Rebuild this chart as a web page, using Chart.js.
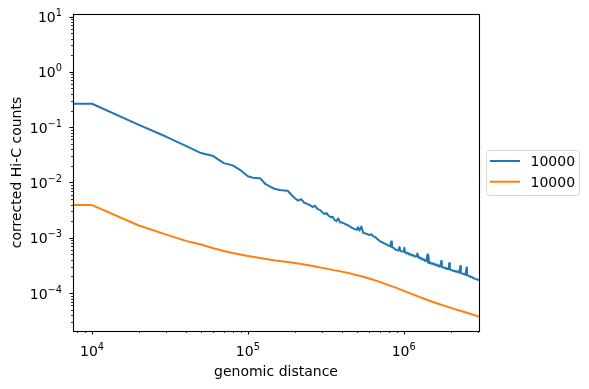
<!DOCTYPE html>
<html>
<head>
<meta charset="utf-8">
<script src="https://cdn.jsdelivr.net/npm/chart.js@4"></script>
<style>
  body { margin: 0; background: #fff; }
</style>
</head>
<body>
<canvas id="myChart" width="589" height="389"></canvas>
<script>
var seriesLabels = ["10000", "10000"];
var seriesColors = ["#1f77b4", "#ff7f0e"];

// blue curve
var blueDistance = [5000, 10000, 20000, 30000, 40000, 50000, 60000, 70000, 80000, 90000,
  100000, 110000, 120000, 130000, 140000, 150000, 160000, 170000, 180000, 190000,
  200000, 210000, 220000, 230000, 240000, 250000, 260000, 270000, 280000, 290000,
  300000, 310000, 320000, 330000, 340000, 350000, 360000, 370000, 380000, 390000,
  400000, 420000, 440000, 460000, 480000, 500000, 510000, 520000, 535000, 550000,
  570000, 580000, 600000, 620000, 640000, 660000, 680000, 700000, 720000, 740000,
  760000, 780000, 800000, 820000, 830000, 840000, 860000, 880000, 900000, 920000,
  940000, 950000, 970000, 1000000, 1010000, 1020000, 1040000, 1060000, 1080000, 1100000,
  1125000, 1150000, 1175000, 1200000, 1225000, 1240000, 1260000, 1280000, 1300000, 1325000,
  1350000, 1375000, 1400000, 1420000, 1430000, 1440000, 1455000, 1475000, 1500000, 1525000,
  1550000, 1575000, 1600000, 1625000, 1650000, 1675000, 1700000, 1720000, 1740000, 1755000,
  1780000, 1800000, 1825000, 1850000, 1875000, 1900000, 1925000, 1945000, 1960000, 1975000,
  2000000, 2030000, 2060000, 2090000, 2120000, 2150000, 2180000, 2210000, 2240000, 2270000,
  2310000, 2325000, 2360000, 2400000, 2430000, 2460000, 2490000, 2530000, 2545000, 2580000,
  2610000, 2650000, 2690000, 2730000, 2770000, 2810000, 2850000, 2890000, 2930000, 2970000,
  3000000, 3100000];
var blueCounts = [0.265, 0.265, 0.11, 0.067, 0.046, 0.034, 0.030, 0.0224, 0.0204, 0.0165,
  0.013, 0.012, 0.0119, 0.0093, 0.0083, 0.0076, 0.0073, 0.0072, 0.0071, 0.0060,
  0.0052, 0.0047, 0.0050, 0.0043, 0.0041, 0.0039, 0.0036, 0.0038, 0.0033, 0.0032,
  0.0029, 0.0027, 0.0028, 0.0025, 0.00235, 0.0024, 0.0021, 0.0020, 0.00225, 0.0019,
  0.0019, 0.00178, 0.00168, 0.00155, 0.00145, 0.0014, 0.00155, 0.00135, 0.0016, 0.00122,
  0.0012, 0.00118, 0.00112, 0.00116, 0.00106, 0.00102, 0.00094, 0.00088, 0.00084, 0.00081,
  0.00078, 0.00075, 0.00072, 0.0007, 0.00086, 0.00068, 0.00066, 0.00062, 0.0006, 0.00059,
  0.00068, 0.00058, 0.00057, 0.00056, 0.00066, 0.00055, 0.00052, 0.00054, 0.0005, 0.00051,
  0.00048, 0.00049, 0.00046, 0.00046, 0.00052, 0.00044, 0.00045, 0.00042, 0.00043, 0.0004,
  0.00041, 0.00038, 0.00039, 0.0005, 0.00036, 0.00048, 0.00035, 0.00036, 0.00034, 0.00035,
  0.00033, 0.00034, 0.00032, 0.00033, 0.00031, 0.00032, 0.0003, 0.00031, 0.00038, 0.0003,
  0.000295, 0.00029, 0.000285, 0.00029, 0.000275, 0.00028, 0.00027, 0.000275, 0.00035, 0.00027,
  0.000265, 0.00026, 0.000255, 0.00025, 0.000255, 0.000245, 0.00025, 0.00024, 0.000243, 0.000235,
  0.00031, 0.000232, 0.000228, 0.000225, 0.00022, 0.000223, 0.000215, 0.00029, 0.00021, 0.000212,
  0.000205, 0.000203, 0.000196, 0.000198, 0.00019, 0.000187, 0.000183, 0.000181, 0.000178, 0.000176,
  0.000174, 0.00017];

// orange curve
var orangeDistance = [5000, 10000, 20000, 30000, 40000, 50000, 60000, 70000, 80000, 100000,
  120000, 150000, 185000, 220000, 260000, 330000, 400000, 450000, 550000, 630000,
  700000, 800000, 890000, 1000000, 1200000, 1460000, 1700000, 1900000, 2100000, 2390000,
  2700000, 3000000, 3100000];
var orangeCounts = [0.0039, 0.0039, 0.00167, 0.00114, 0.00088, 0.00076, 0.00065, 0.00058, 0.00053, 0.00047,
  0.00043, 0.00039, 0.000362, 0.000335, 0.00031, 0.000272, 0.000245, 0.000228, 0.000198, 0.000176,
  0.00016, 0.00014, 0.000126, 0.00011, 0.00009, 0.000073, 0.000063, 0.000057, 0.000052, 0.0000465,
  0.000042, 0.000038, 0.0000368];

var xTicks = [1e4, 1e5, 1e6];
var xTickLabels = ["10^4", "10^5", "10^6"];
var yTicks = [1e-4, 1e-3, 1e-2, 1e-1, 1e0, 1e1];
var yTickLabels = ["10^\u22124", "10^\u22123", "10^\u22122", "10^\u22121", "10^0", "10^1"];

function toPoints(xs, ys) {
  return xs.map(function (x, i) { return { x: x, y: ys[i] }; });
}

// matplotlib-like frame, ticks, math tick labels and legend
const mplDecor = {
  id: 'mplDecor',
  afterDraw(chart) {
    const ctx = chart.ctx;
    const a = chart.chartArea;
    const sx = chart.scales.x, sy = chart.scales.y;
    ctx.save();
    ctx.strokeStyle = '#000';
    ctx.fillStyle = '#000';

    function tickValues(scale) {
      var out = [];
      var e0 = Math.floor(Math.log10(scale.min)), e1 = Math.ceil(Math.log10(scale.max));
      for (var e = e0; e <= e1; e++) {
        for (var m = 1; m <= 9; m++) {
          var v = m * Math.pow(10, e);
          if (v >= scale.min && v <= scale.max) out.push({ v: v, major: m === 1 });
        }
      }
      return out;
    }

    tickValues(sx).forEach(function (t) {
      var px = Math.round(sx.getPixelForValue(t.v)) + 0.5;
      ctx.lineWidth = t.major ? 1.1 : 0.8;
      ctx.beginPath();
      ctx.moveTo(px, a.bottom);
      ctx.lineTo(px, a.bottom + (t.major ? 3.5 : 2));
      ctx.stroke();
    });
    tickValues(sy).forEach(function (t) {
      var py = Math.round(sy.getPixelForValue(t.v)) + 0.5;
      ctx.lineWidth = t.major ? 1.1 : 0.8;
      ctx.beginPath();
      ctx.moveTo(a.left, py);
      ctx.lineTo(a.left - (t.major ? 3.5 : 2), py);
      ctx.stroke();
    });

    // frame
    ctx.lineWidth = 1.1;
    ctx.strokeRect(Math.round(a.left) + 0.5, Math.round(a.top) + 0.5,
      Math.round(a.right - a.left), Math.round(a.bottom - a.top));

    function mathLabel(label, x, y, align) {
      var parts = label.split('^');
      ctx.font = '14px "DejaVu Sans"';
      var wb = ctx.measureText(parts[0]).width;
      ctx.font = '9.8px "DejaVu Sans"';
      var we = ctx.measureText(parts[1]).width;
      var x0 = align === 'center' ? x - (wb + we) / 2 : x - (wb + we);
      ctx.textAlign = 'left';
      ctx.textBaseline = 'alphabetic';
      ctx.font = '14px "DejaVu Sans"';
      ctx.fillText(parts[0], x0, y);
      ctx.font = '9.8px "DejaVu Sans"';
      ctx.fillText(parts[1], x0 + wb, y - 6);
    }

    xTicks.forEach(function (v, i) {
      mathLabel(xTickLabels[i], sx.getPixelForValue(v), a.bottom + 25, 'center');
    });
    yTicks.forEach(function (v, i) {
      mathLabel(yTickLabels[i], a.left - 11, sy.getPixelForValue(v) + 5.5, 'right');
    });

    // legend outside on the right
    var lx = 486.5, ly = 150.5, lw = 93, lh = 45;
    ctx.beginPath();
    ctx.roundRect(lx, ly, lw, lh, 3);
    ctx.fillStyle = 'rgba(255,255,255,0.8)';
    ctx.fill();
    ctx.strokeStyle = '#d6d6d6';
    ctx.lineWidth = 1;
    ctx.stroke();
    ctx.font = '14px "DejaVu Sans"';
    ctx.textBaseline = 'alphabetic';
    ctx.textAlign = 'left';
    chart.data.datasets.forEach(function (ds, i) {
      var yy = 161 + i * 20.7;
      ctx.strokeStyle = ds.borderColor;
      ctx.lineWidth = 2;
      ctx.beginPath();
      ctx.moveTo(490, yy);
      ctx.lineTo(520, yy);
      ctx.stroke();
      ctx.fillStyle = '#000';
      ctx.fillText(ds.label, 530.5, yy + 5);
    });
    ctx.restore();
  }
};

Chart.defaults.font.family = '"DejaVu Sans"';
Chart.defaults.color = '#000';

const myChart = new Chart("myChart", {
  type: "line",
  data: {
    datasets: [{
      label: seriesLabels[0],
      data: toPoints(blueDistance, blueCounts),
      borderColor: seriesColors[0],
      backgroundColor: seriesColors[0],
      borderWidth: 2,
      pointRadius: 0,
      tension: 0,
      fill: false,
      borderJoinStyle: 'round'
    }, {
      label: seriesLabels[1],
      data: toPoints(orangeDistance, orangeCounts),
      borderColor: seriesColors[1],
      backgroundColor: seriesColors[1],
      borderWidth: 2,
      pointRadius: 0,
      tension: 0,
      fill: false,
      borderJoinStyle: 'round'
    }]
  },
  options: {
    responsive: false,
    animation: false,
    devicePixelRatio: 1,
    layout: { padding: { top: 14, right: 110, left: 0, bottom: 0 } },
    plugins: {
      legend: { display: false },
      tooltip: { enabled: false }
    },
    scales: {
      x: {
        type: 'logarithmic',
        min: 7550,
        max: 3.04e6,
        grid: { display: false },
        border: { display: false },
        ticks: { display: false },
        title: { display: true, text: 'genomic distance', font: { size: 14 }, padding: { top: 0, bottom: 8 } },
        afterFit: function (s) { s.height = 58; }
      },
      y: {
        type: 'logarithmic',
        min: 2.07e-5,
        max: 11.1,
        grid: { display: false },
        border: { display: false },
        ticks: { display: false },
        title: { display: true, text: 'corrected Hi-C counts', font: { size: 14 }, padding: { top: 9, bottom: 0 } },
        afterFit: function (s) { s.width = 73; }
      }
    }
  },
  plugins: [mplDecor]
});
</script>
</body>
</html>
